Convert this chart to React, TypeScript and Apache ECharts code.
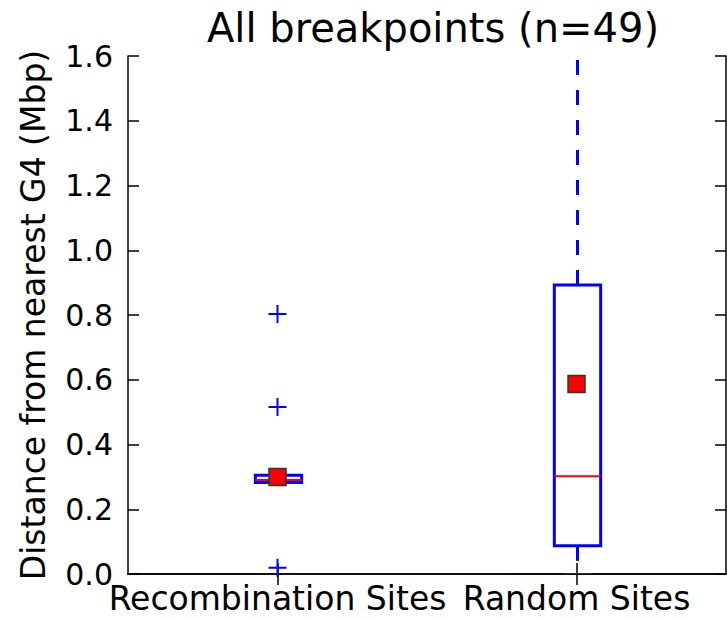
import React, { useEffect, useRef } from "react";
import * as echarts from "echarts";

const categories = ["Recombination Sites", "Random Sites"];
const whiskerLow = [0.283, 0.0];
const q1 = [0.283, 0.087];
const medians = [0.29, 0.302];
const q3 = [0.305, 0.893];
const whiskerHigh = [0.305, 1.75];
const means = [0.3, 0.587];
const outliers: [number, number][] = [
  [0, 0.803],
  [0, 0.516],
  [0, 0.019],
];
const yTicks = [0, 0.2, 0.4, 0.6, 0.8, 1.0, 1.2, 1.4, 1.6];

const FONT = "DejaVu Sans";
const PLUS =
  "path://M-1.1,-10 L1.1,-10 L1.1,-1.1 L10,-1.1 L10,1.1 L1.1,1.1 L1.1,10 L-1.1,10 L-1.1,1.1 L-10,1.1 L-10,-1.1 L-1.1,-1.1 Z";

export default function App() {
  const ref = useRef<HTMLDivElement>(null);
  useEffect(() => {
    if (!ref.current) return;
    const chart = echarts.init(ref.current, null, { renderer: "svg" });
    const boxData = categories.map((_, i) => [
      i,
      whiskerLow[i],
      q1[i],
      medians[i],
      q3[i],
      whiskerHigh[i],
    ]);
    const axisLine = { show: true, lineStyle: { color: "#000", width: 1.5 } };
    const tick = {
      show: true,
      inside: true,
      length: 11,
      lineStyle: { color: "#000", width: 1.5 },
    };
    chart.setOption({
      animation: false,
      backgroundColor: "#fff",
      title: {
        text: "All breakpoints (n=49)",
        left: 428,
        top: 3,
        textAlign: "center",
        textStyle: { fontFamily: FONT, fontSize: 40, fontWeight: "normal", color: "#000" },
      },
      grid: { left: 128, right: 1, top: 56, bottom: 46 },
      xAxis: [
        {
          type: "category",
          data: categories,
          boundaryGap: true,
          position: "bottom",
          axisLine,
          axisTick: { ...tick, alignWithLabel: true },
          axisLabel: { fontFamily: FONT, fontSize: 33, color: "#000", margin: 8, interval: 0 },
          splitLine: { show: false },
        },
        {
          type: "category",
          data: categories,
          boundaryGap: true,
          position: "top",
          axisLine,
          axisTick: { ...tick, alignWithLabel: true },
          axisLabel: { show: false },
          splitLine: { show: false },
        },
      ],
      yAxis: [
        {
          type: "value",
          min: 0,
          max: 1.6,
          interval: 0.2,
          position: "left",
          name: "Distance from nearest G4 (Mbp)",
          nameLocation: "middle",
          nameGap: 78,
          nameTextStyle: { fontFamily: FONT, fontSize: 33, color: "#000" },
          axisLine,
          axisTick: tick,
          axisLabel: {
            fontFamily: FONT,
            fontSize: 30,
            color: "#000",
            margin: 15,
            formatter: (v: number) => {
              const t = yTicks.find((k) => Math.abs(k - v) < 1e-6);
              return (t !== undefined ? t : v).toFixed(1);
            },
          },
          splitLine: { show: false },
        },
        {
          type: "value",
          min: 0,
          max: 1.6,
          interval: 0.2,
          position: "right",
          axisLine,
          axisTick: tick,
          axisLabel: { show: false },
          splitLine: { show: false },
        },
      ],
      series: [
        {
          type: "custom",
          clip: true,
          xAxisIndex: 0,
          yAxisIndex: 0,
          data: boxData,
          encode: { x: 0, y: [1, 2, 3, 4, 5] },
          renderItem: (params: any, api: any) => {
            const x = api.value(0);
            const pLow = api.coord([x, api.value(1)]);
            const pQ1 = api.coord([x, api.value(2)]);
            const pMed = api.coord([x, api.value(3)]);
            const pQ3 = api.coord([x, api.value(4)]);
            const pHigh = api.coord([x, api.value(5)]);
            const band = api.size([1, 0])[0];
            const bw = band * 0.155;
            const cw = band * 0.09;
            const cx = pMed[0] + 1;
            const whiskerStyle = { stroke: "#0000ff", lineWidth: 3, lineDash: [15, 15] };
            return {
              type: "group",
              children: [
                {
                  type: "line",
                  shape: { x1: cx, y1: pQ3[1], x2: cx, y2: pHigh[1] },
                  style: whiskerStyle,
                },
                {
                  type: "line",
                  shape: { x1: cx, y1: pQ1[1], x2: cx, y2: pLow[1] },
                  style: whiskerStyle,
                },
                {
                  type: "line",
                  shape: { x1: cx - cw / 2, y1: pHigh[1], x2: cx + cw / 2, y2: pHigh[1] },
                  style: { stroke: "#333", lineWidth: 1.5 },
                },
                {
                  type: "line",
                  shape: { x1: cx - cw / 2, y1: pLow[1], x2: cx + cw / 2, y2: pLow[1] },
                  style: { stroke: "#333", lineWidth: 1.5 },
                },
                {
                  type: "rect",
                  shape: { x: cx - bw / 2, y: pQ3[1], width: bw, height: pQ1[1] - pQ3[1] },
                  style: { stroke: "#0000ff", lineWidth: 3, fill: "none" },
                },
                {
                  type: "line",
                  shape: { x1: cx - bw / 2, y1: pMed[1], x2: cx + bw / 2, y2: pMed[1] },
                  style: { stroke: "#ff0000", lineWidth: 2 },
                },
              ],
            };
          },
          z: 2,
        },
        {
          type: "scatter",
          data: outliers,
          symbol: PLUS,
          symbolSize: 18,
          itemStyle: { color: "#0000ff", opacity: 1 },
          z: 3,
        },
        {
          type: "scatter",
          data: means.map((m, i) => [i, m]),
          symbol: "rect",
          symbolSize: 17,
          itemStyle: { color: "#ff0000", borderColor: "#333", borderWidth: 1.5, opacity: 1 },
          z: 4,
        },
      ],
    });
    return () => chart.dispose();
  }, []);
  return (
    <div
      ref={ref}
      style={{ position: "fixed", left: 0, top: 0, width: 727, height: 620, background: "#fff" }}
    />
  );
}
